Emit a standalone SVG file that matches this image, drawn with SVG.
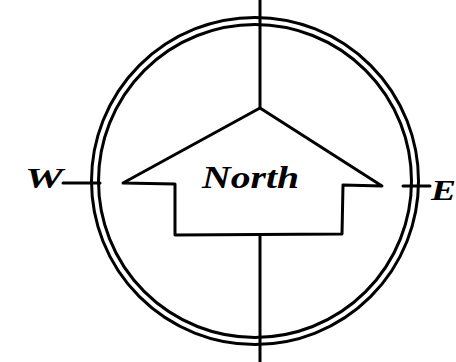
<svg xmlns="http://www.w3.org/2000/svg" width="456" height="362" viewBox="0 0 456 362">
<style>
.ln{fill:none;stroke:#000;stroke-width:3;stroke-linecap:round;stroke-linejoin:round}
.lbl{font-family:"Liberation Serif",serif;font-style:italic;font-weight:bold;fill:#000}
</style>
<rect width="456" height="362" fill="#fff"/>
<g id="compass-ring">
<circle class="ln" cx="255" cy="181" r="163.5"/>
<circle class="ln" cx="255" cy="181" r="156.5"/>
</g>
<g id="connectors">
<line class="ln" x1="260" y1="0" x2="260" y2="108"/>
<line class="ln" x1="260" y1="235" x2="260" y2="362"/>
<line class="ln" x1="63" y1="183" x2="100" y2="183"/>
<line class="ln" x1="403" y1="186" x2="430" y2="186"/>
</g>
<g id="north-arrow">
<path class="ln" d="M123,183 L260,108 L382,186 L343,185 L342,234 L175,235 L175,184 Z"/>
<text class="lbl" x="202" y="188" font-size="32" textLength="97" lengthAdjust="spacingAndGlyphs">North</text>
</g>
<g id="west">
<text class="lbl" x="25" y="188" font-size="30" textLength="38" lengthAdjust="spacingAndGlyphs">W</text>
</g>
<g id="east">
<text class="lbl" x="431" y="200" font-size="30" textLength="25" lengthAdjust="spacingAndGlyphs">E</text>
</g>
</svg>
